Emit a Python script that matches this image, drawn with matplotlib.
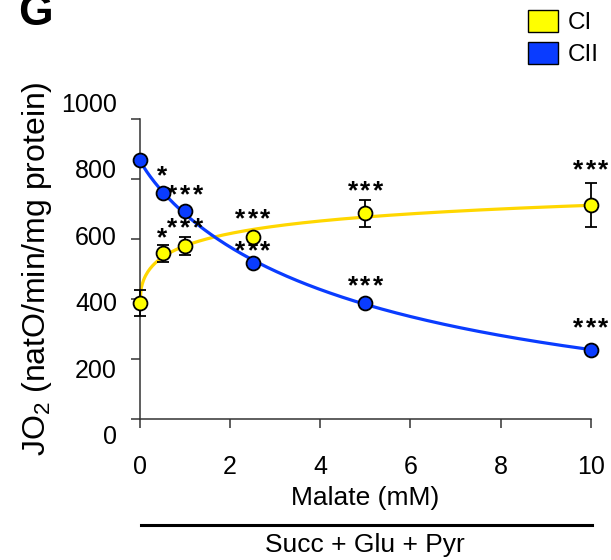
import matplotlib
matplotlib.use("Agg")
import matplotlib.pyplot as plt
from matplotlib.patches import Patch
import numpy as np

plt.rcParams['font.family'] = ['Liberation Sans', 'DejaVu Sans']
plt.rcParams['mathtext.default'] = 'regular'

# data
malate = [0, 0.5, 1, 2.5, 5, 10]
ci_mean = [388, 553, 577, 608, 686, 714]
ci_err = [43, 28, 30, 0, 45, 74]
cii_mean = [863, 752, 695, 521, 388, 231]
cii_err = [0, 0, 0, 0, 0, 0]

ci_stars = ["", "*", "***", "***", "***", "***"]
cii_stars = ["", "*", "***", "***", "***", "***"]

yticks = [0, 200, 400, 600, 800, 1000]
xticks = [0, 2, 4, 6, 8, 10]

yellow = '#FFFF00'
yellow_line = '#FFD700'
blue = '#0A3CFF'

# gap (px) from error-bar top / point centre to the middle of the stars
ci_star_gap = [0, 10, 12, 21, 12, 16]
cii_star_gap = [0, 21, 19, 15, 20, 25]


def fit_hill(x, y):
    # y = a + b*x^n/(k^n+x^n): grid over k and n, least squares for a, b
    x = np.asarray(x, float)
    y = np.asarray(y, float)
    best = None
    for n in np.linspace(0.5, 1.5, 41):
        for k in np.logspace(-1.5, 1.5, 300):
            g = x ** n / (k ** n + x ** n)
            A = np.column_stack([np.ones_like(x), g])
            coef = np.linalg.lstsq(A, y, rcond=None)[0]
            r = np.sum((A @ coef - y) ** 2)
            if best is None or r < best[0]:
                best = (r, k, n, coef)
    _, k, n, (a, b) = best
    return lambda t: a + b * t ** n / (k ** n + t ** n)


W, H = 611, 560
fig = plt.figure(figsize=(W / 100, H / 100), dpi=100)
x0, x1 = 140, 590.7
y0, y1 = 419.3, 119
ax = fig.add_axes([x0 / W, 1 - y0 / H, (x1 - x0) / W, (y0 - y1) / H])

xs = np.linspace(0, 10, 400)
f_ci = fit_hill(malate, ci_mean)
f_cii = fit_hill(malate, cii_mean)
ax.plot(xs, f_ci(xs), color=yellow_line, lw=2.3, zorder=2, clip_on=False)
ax.plot(xs, f_cii(xs), color=blue, lw=2.3, zorder=2, clip_on=False)

for mean, err, fc in [(ci_mean, ci_err, yellow), (cii_mean, cii_err, blue)]:
    ax.errorbar(malate, mean, yerr=err, fmt='none', ecolor='black',
                elinewidth=1.3, capsize=4.5, capthick=1.3, zorder=3, clip_on=False)
    ax.plot(malate, mean, 'o', ms=10, mfc=fc, mec='black', mew=1.3,
            zorder=4, clip_on=False)

# stars drawn one glyph at a time so they get the wide spacing of the original
star_fs = 19
pitch = 12.7
for mean, err, stars, gaps in [(ci_mean, ci_err, ci_stars, ci_star_gap),
                               (cii_mean, cii_err, cii_stars, cii_star_gap)]:
    for xv, m, e, s, g in zip(malate, mean, err, stars, gaps):
        n = len(s)
        base_px = g + 4 - 0.56 * star_fs * 100 / 72
        for i in range(n):
            dx = (i - (n - 1) / 2) * pitch
            ax.annotate('*', (xv, m + e), xytext=(dx * 0.72, base_px * 0.72),
                        textcoords='offset points', ha='center', va='baseline',
                        fontsize=star_fs, fontweight='bold', clip_on=False)

ax.set_xlim(0, 10)
ax.set_ylim(0, 1000)
ax.set_xticks(xticks)
ax.set_yticks(yticks)
ax.set_yticklabels([])
ax.tick_params(axis='both', direction='out', length=6.5, width=1.1, color='#333333',
               labelsize=18)
ax.tick_params(axis='x', pad=19)
for s in ['top', 'right']:
    ax.spines[s].set_visible(False)
for s in ['left', 'bottom']:
    ax.spines[s].set_linewidth(1.1)
    ax.spines[s].set_color('#333333')
ax.set_xlabel('Malate (mM)', fontsize=19, labelpad=5)

# y tick labels sit on a slightly stretched scale in the original
lab_bot, lab_top = 435, 102
axl = fig.add_axes([x0 / W, 1 - lab_bot / H, (x1 - x0) / W, (lab_bot - lab_top) / H])
axl.patch.set_visible(False)
axl.set_ylim(0, 1000)
axl.set_yticks(yticks)
axl.tick_params(axis='y', length=0, pad=16.5, labelsize=18)
axl.set_xticks([])
for s in axl.spines.values():
    s.set_visible(False)
axl.set_ylabel('JO$_2$ (natO/min/mg protein)', fontsize=23, labelpad=5)

# bracket under the x axis
ax.plot([0.003, 1.002], [-0.352, -0.352], transform=ax.transAxes, color='black',
        lw=2.2, clip_on=False)
ax.text(0.5, -0.418, 'Succ + Glu + Pyr', transform=ax.transAxes, ha='center',
        va='center', fontsize=19)

fig.text(18 / W, 1 - 25 / H, 'G', fontsize=32, fontweight='bold', ha='left', va='baseline')

handles = [Patch(facecolor=yellow, edgecolor='black', label='CI'),
           Patch(facecolor=blue, edgecolor='black', label='CII')]
fig.legend(handles=handles, loc='upper left', bbox_to_anchor=(528 / W, 1 - 10 / H),
           frameon=False, fontsize=17.5, handlelength=1.25, handleheight=1.0,
           handletextpad=0.4, labelspacing=0.32, borderpad=0, borderaxespad=0)

fig.savefig('out.png', dpi=100)
